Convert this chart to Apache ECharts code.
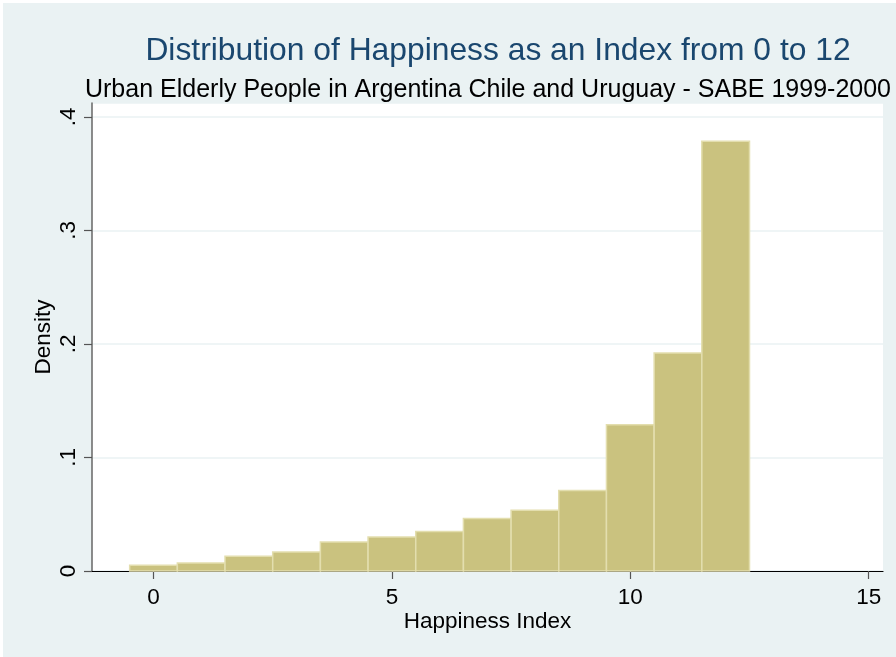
<!DOCTYPE html>
<html><head><meta charset="utf-8">
<script src="https://cdn.jsdelivr.net/npm/echarts@6/dist/echarts.min.js"></script>
<style>html,body{margin:0;padding:0;background:#fff;}#c{position:absolute;left:3px;top:3px;width:893px;height:654px;}</style>
</head><body><div id="c"></div>
<script>
const binCenters = [0,1,2,3,4,5,6,7,8,9,10,11,12];
const densities = [0.005,0.007,0.013,0.0168,0.0256,0.030,0.0347,0.0462,0.0536,0.0709,0.1289,0.1921,0.3785];
const xTicks = [0,5,10,15];
const yTicks = [0,0.1,0.2,0.3,0.4];
const yTickLabels = ['0','.1','.2','.3','.4'];
const titleText = 'Distribution of Happiness as an Index from 0 to 12';
const subtitleText = 'Urban Elderly People in Argentina Chile and Uruguay - SABE 1999-2000';
const binWidth = 1;

const chart = echarts.init(document.getElementById('c'));
const font = '"Liberation Sans", Arial, Helvetica, sans-serif';
chart.setOption({
  backgroundColor: '#eaf2f3',
  animation: false,
  title: [
    {text: titleText, left: 490, top: 27, textAlign: 'center',
     textStyle: {color: '#1a476f', fontSize: 31.8, fontWeight: 'normal', fontFamily: font}},
    {text: subtitleText, left: 480, top: 70, textAlign: 'center',
     textStyle: {color: '#000', fontSize: 25, fontWeight: 'normal', fontFamily: font}}
  ],
  grid: {left: 89, right: 13, top: 100, bottom: 86, show: true, backgroundColor: '#fff', borderWidth: 0},
  xAxis: {
    type: 'value', min: -1.29, max: 15.30,
    name: 'Happiness Index', nameLocation: 'middle', nameGap: 39, nameMoveOverlap: false,
    nameTextStyle: {color: '#000', fontSize: 22.5, fontFamily: font},
    axisLine: {show: true, onZero: false, lineStyle: {color: '#000', width: 1.2}},
    axisTick: {show: true, length: 8, customValues: xTicks, lineStyle: {color: '#555', width: 1.2}},
    axisLabel: {customValues: xTicks, margin: 15, color: '#000', fontSize: 22.5, fontFamily: font},
    splitLine: {show: false}
  },
  yAxis: {
    type: 'value', min: 0, max: 0.4123, interval: 0.1,
    name: 'Density', nameLocation: 'middle', nameGap: 37, nameRotate: 90, nameMoveOverlap: false,
    nameTextStyle: {color: '#000', fontSize: 22.5, fontFamily: font},
    axisLine: {show: true, onZero: false, lineStyle: {color: '#666', width: 1.5}},
    axisTick: {show: true, length: 8, lineStyle: {color: '#555', width: 1.2}},
    axisLabel: {rotate: 90, margin: 12, color: '#000', fontSize: 22.5, fontFamily: font,
      showMaxLabel: false,
      formatter: v => { const i = yTicks.findIndex(t => Math.abs(t - v) < 1e-9); return i >= 0 ? yTickLabels[i] : ''; }},
    splitLine: {show: true, lineStyle: {color: '#eaf2f3', width: 1.5}}
  },
  series: [{
    type: 'custom',
    data: binCenters.map((c, i) => [c, densities[i]]),
    renderItem: function (params, api) {
      const x = api.value(0), y = api.value(1);
      const p0 = api.coord([x - binWidth / 2, y]);
      const p1 = api.coord([x + binWidth / 2, 0]);
      return {type: 'rect', shape: {x: p0[0], y: p0[1], width: p1[0] - p0[0], height: p1[1] - p0[1]},
        style: {fill: '#cac27f', stroke: '#e3deae', lineWidth: 1.5}};
    },
    z: 3
  }]
});
</script></body></html>
